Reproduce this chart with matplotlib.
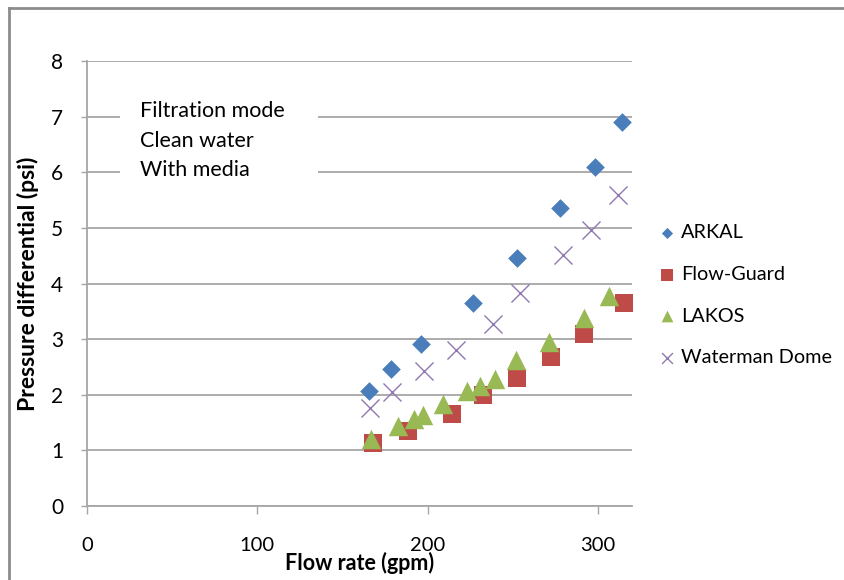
import matplotlib
matplotlib.use("Agg")
import matplotlib.pyplot as plt
from matplotlib.lines import Line2D
from matplotlib.patches import Rectangle

plt.rcParams['font.family'] = ['Lato', 'DejaVu Sans']

# data
arkal_x = [165.5, 178.5, 196, 226.5, 252.5, 277.5, 298, 314]
arkal_y = [2.07, 2.46, 2.92, 3.65, 4.46, 5.36, 6.09, 6.90]

flowguard_x = [167.8, 188.6, 214.3, 232.5, 252.7, 272.7, 292, 315.5]
flowguard_y = [1.13, 1.35, 1.65, 2.00, 2.31, 2.67, 3.10, 3.65]

lakos_x = [166.5, 182.5, 192, 197, 209, 223, 230.8, 239.4, 252, 271.4, 291.6, 306.7]
lakos_y = [1.20, 1.44, 1.56, 1.64, 1.84, 2.06, 2.16, 2.28, 2.63, 2.94, 3.38, 3.77]

waterman_x = [166, 179, 198, 216.5, 238.4, 254.3, 279.6, 296, 312]
waterman_y = [1.77, 2.05, 2.42, 2.81, 3.27, 3.83, 4.51, 4.96, 5.59]

note_lines = ["Filtration mode", "Clean water", "With media"]

W, H = 845, 580
fig = plt.figure(figsize=(W/100, H/100), dpi=100)
ax = fig.add_axes([87/W, 1-506/H, 545/W, 445/H])

ax.scatter(arkal_x, arkal_y, marker="D", s=9.5**2, c="#4a7ebb", lw=0, label="ARKAL", zorder=3)
ax.scatter(flowguard_x, flowguard_y, marker="s", s=13.5**2, c="#be4b48", lw=0, label="Flow-Guard", zorder=3)
ax.scatter(lakos_x, lakos_y, marker="^", s=14**2, c="#98b954", lw=0, label="LAKOS", zorder=4)
ax.scatter(waterman_x, waterman_y, marker="x", s=13**2, c="#9079b0", lw=1.0, label="Waterman Dome", zorder=3)

ax.set_xlim(0, 320)
ax.set_ylim(0, 8)
ax.set_xticks([0, 100, 200, 300])
ax.set_yticks(range(0, 9))
ax.grid(axis="y", color="#a6a6a6", lw=1.3)
ax.set_axisbelow(True)
for s in ["top", "right"]:
    ax.spines[s].set_visible(False)
for s in ["left", "bottom"]:
    ax.spines[s].set_color("#a6a6a6")
    ax.spines[s].set_linewidth(1.3)
ax.tick_params(axis="x", direction="out", length=6, width=1, color="#a6a6a6", pad=16, labelsize=14.5)
ax.tick_params(axis="y", direction="out", length=4, width=1, color="#a6a6a6", pad=13, labelsize=15)

ax.set_xlabel("Flow rate (gpm)", fontsize=15.5, fontweight="bold", labelpad=-1)
ax.yaxis.set_label_coords(-59/545, 0.5)
ax.set_ylabel("Pressure differential (psi)", fontsize=16.5, fontweight="bold", va="center")

# white note box over the grid
ax.add_patch(Rectangle((0.0606, 0.70), 0.364, 0.245, transform=ax.transAxes,
                       facecolor="white", edgecolor="none", zorder=2))
for txt, yy in zip(note_lines, [110.7, 140.7, 170]):
    ax.text(53/545, (506-yy)/445, txt, transform=ax.transAxes, fontsize=15.5,
            va="center", zorder=5)

leg = fig.legend(loc="upper left", bbox_to_anchor=(649/W, 1-214/H), frameon=False,
                 fontsize=14.3, markerscale=0.6, handletextpad=0.3, labelspacing=1.25,
                 handlelength=0.8, borderpad=0)

# outer frame
fig.add_artist(Line2D([9/W, 9/W], [0, 1-8/H], color="#8c8c8c", lw=2))
fig.add_artist(Line2D([9/W, 1], [1-8/H, 1-8/H], color="#8c8c8c", lw=2))

fig.savefig("out.png", dpi=100)
